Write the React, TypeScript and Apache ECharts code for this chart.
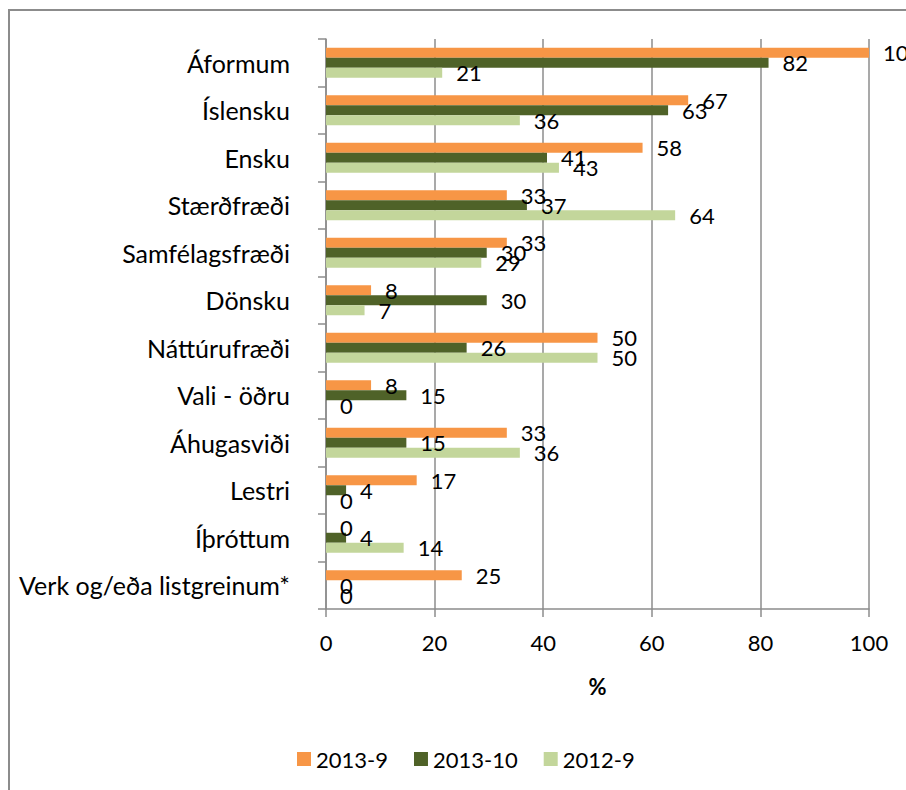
import React, { useEffect, useRef } from "react";
import * as echarts from "echarts";

const categories = [
  "Áformum",
  "Íslensku",
  "Ensku",
  "Stærðfræði",
  "Samfélagsfræði",
  "Dönsku",
  "Náttúrufræði",
  "Vali - öðru",
  "Áhugasviði",
  "Lestri",
  "Íþróttum",
  "Verk og/eða listgreinum*",
];
const s2013_9 = [100, 66.7, 58.3, 33.3, 33.3, 8.3, 50, 8.3, 33.3, 16.7, 0, 25];
const s2013_10 = [81.5, 63, 40.7, 37, 29.6, 29.6, 25.9, 14.8, 14.8, 3.7, 3.7, 0];
const s2012_9 = [21.4, 35.7, 42.9, 64.3, 28.6, 7.1, 50, 0, 35.7, 0, 14.3, 0];
const xTicks = [0, 20, 40, 60, 80, 100];

const FONT = "Lato";

export default function App() {
  const ref = useRef<HTMLDivElement>(null);
  useEffect(() => {
    if (!ref.current) return;
    const chart = echarts.init(ref.current, undefined, { renderer: "svg" });
    const label = {
      show: true,
      position: "right",
      distance: 14,
      color: "#000",
      fontFamily: FONT,
      fontSize: 22,
      formatter: (p: any) => String(Math.round(p.value)),
    };
    const mk = (name: string, data: number[], color: string) => ({
      name,
      type: "bar",
      data,
      itemStyle: { color },
      barGap: "0%",
      barCategoryGap: "37%",
      label,
    });
    chart.setOption({
      animation: false,
      textStyle: { fontFamily: FONT },
      graphic: [
        {
          type: "rect",
          shape: { x: 9, y: 10, width: 1000, height: 900 },
          style: { fill: "none", stroke: "#8c8c8c", lineWidth: 2 },
          silent: true,
        },
      ],
      grid: { left: 326, right: 37, top: 39, bottom: 181, containLabel: false },
      legend: {
        left: 292,
        top: 743,
        itemWidth: 14,
        itemHeight: 14,
        itemGap: 26,
        icon: "rect",
        textStyle: { fontFamily: FONT, fontSize: 22, color: "#000" },
        data: ["2013-9", "2013-10", "2012-9"],
      },
      xAxis: {
        type: "value",
        min: xTicks[0],
        max: xTicks[xTicks.length - 1],
        interval: 20,
        name: "%",
        nameLocation: "middle",
        nameGap: 66,
        nameTextStyle: { fontFamily: FONT, fontSize: 22, fontWeight: "bold", color: "#000" },
        axisLine: { show: true, lineStyle: { color: "#8c8c8c", width: 1.5 } },
        axisTick: { show: true, length: 8, lineStyle: { color: "#8c8c8c", width: 1.5 } },
        axisLabel: { margin: 22, fontFamily: FONT, fontSize: 22, color: "#000" },
        splitLine: { show: true, lineStyle: { color: "#8c8c8c", width: 1.5 } },
      },
      yAxis: {
        type: "category",
        data: categories,
        inverse: true,
        axisLine: { show: true, lineStyle: { color: "#8c8c8c", width: 1.5 } },
        axisTick: { show: true, length: 8, lineStyle: { color: "#8c8c8c", width: 1.5 } },
        axisLabel: { margin: 36, fontFamily: FONT, fontSize: 25, color: "#000" },
      },
      series: [
        mk("2013-9", s2013_9, "#F79646"),
        mk("2013-10", s2013_10, "#4F6228"),
        mk("2012-9", s2012_9, "#C3D69B"),
      ],
    });
    return () => chart.dispose();
  }, []);
  return <div ref={ref} style={{ width: 906, height: 790, position: "absolute", left: 0, top: 0 }} />;
}
